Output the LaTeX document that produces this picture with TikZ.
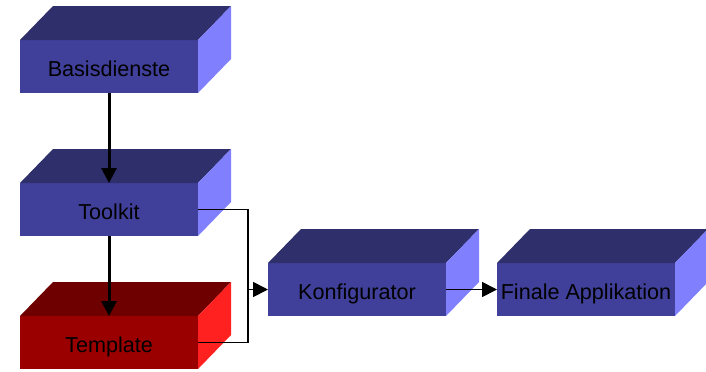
\documentclass[tikz,border=0pt]{standalone}
\usepackage{fontspec}
\setmainfont{Liberation Sans}
\usetikzlibrary{arrows.meta}
\definecolor{blaufront}{RGB}{64,64,155}
\definecolor{blaudeckel}{RGB}{47,47,108}
\definecolor{blauseite}{RGB}{128,128,255}
\definecolor{rotfront}{RGB}{155,0,0}
\definecolor{rotdeckel}{RGB}{110,0,0}
\definecolor{rotseite}{RGB}{255,32,32}
\tikzset{
  quader/.style={rectangle, minimum width=89pt, minimum height=26.5pt,
    inner sep=0pt, outer sep=0pt, fill=blaufront, text height=10pt, text depth=0pt,
    font=\fontsize{10.8}{13}\selectfont},
  pfeil/.style={-{Triangle[length=7.5pt,width=7.5pt]}, line width=1.5pt},
  linie/.style={line width=0.85pt}
}
\begin{document}
\begin{tikzpicture}[x=0.5pt, y=-0.5pt]
  \useasboundingbox[fill=white] (0,0) rectangle (706,371);
  % Vorderseiten
  \node[quader] (basis) at (109,66.5) {Basisdienste};
  \node[quader] (toolkit) at (109,209.5) {Toolkit};
  \node[quader, fill=rotfront] (template) at (109,342.5) {Template};
  \node[quader] (konf) at (357,289.5) {Konfigurator};
  \node[quader] (finale) at (586,289.5) {Finale Applikation};
  % Deckel und Seiten
  \foreach \n in {basis,toolkit,konf,finale} {
    \fill[blaudeckel] (\n.north west) -- ++(33,-34) -- ++(178,0) -- (\n.north east) -- cycle;
    \fill[blauseite] (\n.north east) -- ++(33,-34) -- ++(0,53) -- (\n.south east) -- cycle;
  }
  \fill[rotdeckel] (template.north west) -- ++(33,-34) -- ++(178,0) -- (template.north east) -- cycle;
  \fill[rotseite] (template.north east) -- ++(33,-34) -- ++(0,53) -- (template.south east) -- cycle;
  % Verbindungen
  \draw[pfeil] (basis.south) -- (toolkit.north);
  \draw[pfeil] (toolkit.south) -- (template.north);
  \coordinate (knick) at ([xshift=25pt]toolkit.east |- konf.west);
  \draw[linie] (toolkit.east) -| (knick);
  \draw[linie] (template.east) -| (knick);
  \draw[pfeil, linie] (knick) -- (konf.west);
  \draw[pfeil, linie] (konf.east) -- (finale.west);
\end{tikzpicture}
\end{document}
